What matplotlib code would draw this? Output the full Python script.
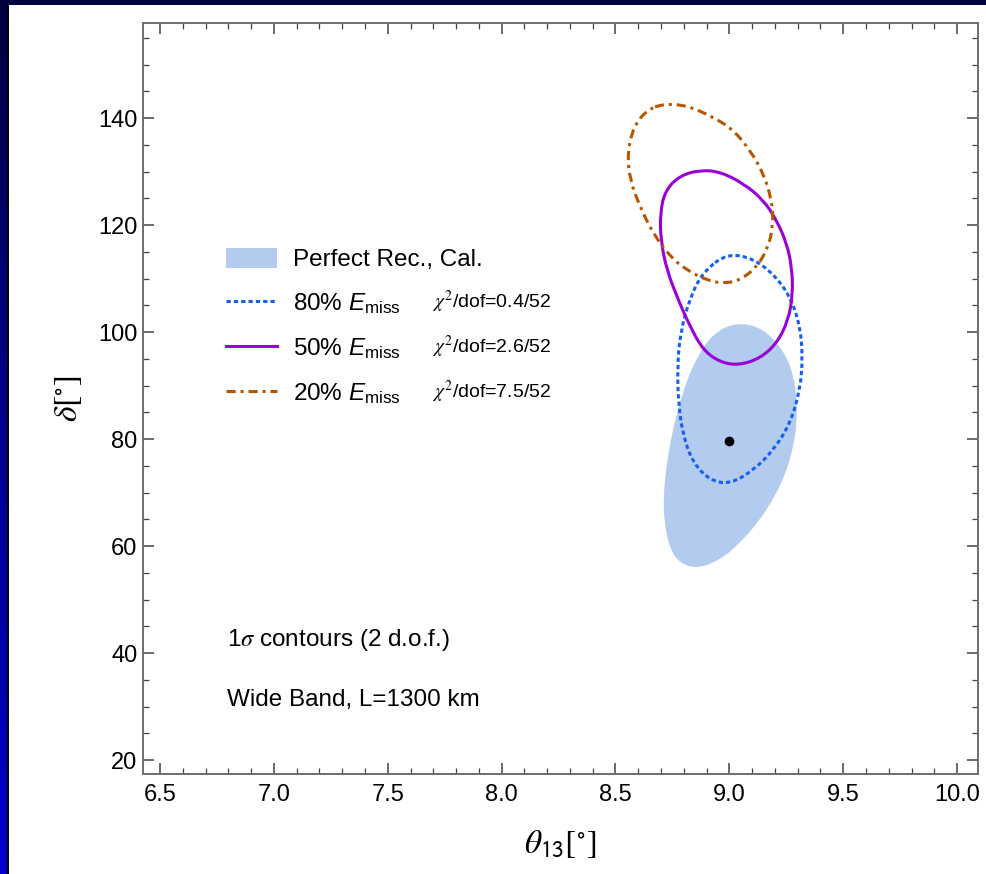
import matplotlib
matplotlib.use('Agg')
import matplotlib.pyplot as plt
import numpy as np
from matplotlib.colors import LinearSegmentedColormap
from matplotlib.lines import Line2D
from matplotlib.patches import Patch, Rectangle, PathPatch
from matplotlib.path import Path

plt.rcParams['font.family'] = ['Liberation Sans', 'DejaVu Sans']
plt.rcParams['mathtext.fontset'] = 'custom'
plt.rcParams['mathtext.rm'] = 'Liberation Sans'
plt.rcParams['mathtext.it'] = 'Liberation Sans:italic'

# best fit point
best_theta = 9.0
best_delta = 79.6

# 1 sigma region, perfect reconstruction / calibration (theta13, delta)
perfect_theta = [9.033, 9.150, 9.237, 9.281, 9.296, 9.296, 9.281, 9.252, 9.208, 9.135,
                 9.047, 8.959, 8.857, 8.784, 8.740, 8.715, 8.710, 8.725, 8.754, 8.798,
                 8.857, 8.930]
perfect_delta = [101.9, 100.7, 96.6, 92.3, 87.3, 83.0, 78.6, 74.2, 69.9, 64.9,
                 60.6, 57.4, 55.8, 56.8, 59.3, 64.3, 69.2, 75.5, 82.3, 89.2,
                 95.4, 99.8]

# 80% E_miss
e80_theta = [8.989, 9.106, 9.208, 9.274, 9.311, 9.322, 9.311, 9.267, 9.193, 9.106,
             9.003, 8.915, 8.842, 8.798, 8.776, 8.772, 8.784, 8.828, 8.886]
e80_delta = [114.7, 113.8, 110.3, 106.0, 101.0, 95.4, 89.2, 82.9, 77.9, 74.2,
             71.6, 72.3, 75.5, 80.4, 86.7, 93.5, 99.8, 106.6, 111.3]

# 50% E_miss
e50_theta = [8.872, 8.959, 9.062, 9.150, 9.208, 9.252, 9.274, 9.279, 9.259, 9.208,
             9.135, 9.040, 8.959, 8.886, 8.828, 8.776, 8.725, 8.699, 8.696, 8.718,
             8.784]
e50_delta = [130.3, 130.0, 127.8, 124.7, 120.9, 116.6, 112.2, 107.2, 102.2, 97.9,
             95.1, 93.8, 94.4, 96.6, 101.0, 106.0, 111.6, 117.2, 122.2, 126.5,
             129.3]

# 20% E_miss
e20_theta = [8.710, 8.813, 8.930, 9.018, 9.091, 9.150, 9.186, 9.193, 9.172, 9.121,
             9.047, 8.974, 8.901, 8.813, 8.740, 8.666, 8.608, 8.564, 8.552, 8.579,
             8.637]
e20_delta = [142.7, 142.4, 140.2, 137.8, 134.0, 129.7, 124.7, 120.3, 115.9, 112.2,
             109.7, 109.1, 109.7, 111.6, 114.1, 118.4, 123.4, 128.4, 133.4, 138.4,
             141.5]

labels = ['Perfect Rec., Cal.', r'80% $E_{\mathrm{miss}}$', r'50% $E_{\mathrm{miss}}$',
          r'20% $E_{\mathrm{miss}}$']
chi2_labels = [r'$\chi^2$/dof=0.4/52', r'$\chi^2$/dof=2.6/52', r'$\chi^2$/dof=7.5/52']

fill_col = '#b3cbef'
blue = '#1660ef'
purple = '#9a00d8'
orange = '#b85600'
dotted = (0, (1.4, 1.0))
dashdot = (0, (3, 1.6, 1, 1.6))


def smooth_loop(xs, ys):
    # closed quadratic bezier path using the read points as control points
    pts = np.column_stack([xs, ys])
    nxt = np.roll(pts, -1, axis=0)
    mids = (pts + nxt) / 2
    verts = [mids[-1]]
    codes = [Path.MOVETO]
    for p, m in zip(pts, mids):
        verts += [p, m]
        codes += [Path.CURVE3, Path.CURVE3]
    return Path(verts, codes)


W, H = 986, 874
fig = plt.figure(figsize=(W / 100, H / 100), dpi=100)

# background frame: blue gradient with white panel
bg = fig.add_axes([0, 0, 1, 1], zorder=-10)
cmap = LinearSegmentedColormap.from_list('bgblue', ['#000040', '#000090', '#0000cc'])
bg.imshow(np.linspace(0, 1, 256).reshape(-1, 1), aspect='auto', cmap=cmap,
          extent=[0, W, H, 0])
bg.add_patch(Rectangle((6.5, 4.5), 3, H, color='black', lw=0))
bg.add_patch(Rectangle((9, 5), W, H, color='white', lw=0))
bg.set_xlim(0, W)
bg.set_ylim(H, 0)
bg.axis('off')

ax = fig.add_axes([143 / W, 1 - 774 / H, 835 / W, 751 / H])
ax.set_facecolor('white')

ax.add_patch(PathPatch(smooth_loop(perfect_theta, perfect_delta), facecolor=fill_col,
                       edgecolor='none', zorder=1))
ax.add_patch(PathPatch(smooth_loop(e80_theta, e80_delta), facecolor='none',
                       edgecolor=blue, lw=2.2, ls=dotted, zorder=3))
ax.add_patch(PathPatch(smooth_loop(e50_theta, e50_delta), facecolor='none',
                       edgecolor=purple, lw=2.2, ls='-', zorder=3))
ax.add_patch(PathPatch(smooth_loop(e20_theta, e20_delta), facecolor='none',
                       edgecolor=orange, lw=2.2, ls=dashdot, zorder=3))
ax.plot([best_theta], [best_delta], 'o', color='black', ms=6, zorder=4)

ax.set_xlim(6.425, 10.092)
ax.set_ylim(17.4, 157.8)
ax.set_xticks(np.arange(6.5, 10.01, 0.5))
ax.set_xticklabels(['%.1f' % v for v in np.arange(6.5, 10.01, 0.5)])
ax.set_xticks(np.arange(6.5, 10.09, 0.1), minor=True)
ax.set_yticks(np.arange(20, 141, 20))
ax.set_yticks(np.arange(20, 156, 5), minor=True)

spine_col = '#6e6e6e'
for s in ax.spines.values():
    s.set_color(spine_col)
    s.set_linewidth(1.4)
ax.tick_params(which='both', direction='in', top=True, right=True, color='#444444',
               labelsize=17)
ax.tick_params(which='major', length=8, width=1.1)
ax.tick_params(which='minor', length=4.5, width=0.9)
ax.tick_params(axis='x', pad=7)
ax.tick_params(axis='y', pad=4)

ax.set_xlabel(r'$\theta_{\mathsf{13}}[{}^{\circ}]$', fontsize=24, math_fontfamily='stix',
              labelpad=16)
ax.set_ylabel(r'$\delta[{}^{\circ}]$', fontsize=24, math_fontfamily='stix', labelpad=10)

handles = [Patch(facecolor=fill_col, edgecolor='none'),
           Line2D([], [], color=blue, lw=2.2, ls=dotted),
           Line2D([], [], color=purple, lw=2.2),
           Line2D([], [], color=orange, lw=2.2, ls=dashdot)]
leg = ax.legend(handles, labels, loc='upper left', bbox_to_anchor=(0.099, 0.7007),
                frameon=False, fontsize=17.5, handlelength=2.1, handleheight=0.9,
                handletextpad=0.65, labelspacing=0.83, borderpad=0, borderaxespad=0)

chi_y = [(774 - 302) / 751, (774 - 347) / 751, (774 - 392) / 751]
for y, t in zip(chi_y, chi2_labels):
    ax.text(0.346, y, t, transform=ax.transAxes, fontsize=14, va='center',
            math_fontfamily='stix')

ax.text((227 - 143) / 835, (774 - 640) / 751, r'1$\sigma$ contours (2 d.o.f.)',
        transform=ax.transAxes, fontsize=17.5, va='center', math_fontfamily='stix')
ax.text((227 - 143) / 835, (774 - 700) / 751, 'Wide Band, L=1300 km',
        transform=ax.transAxes, fontsize=17.5, va='center')

fig.savefig('out.png', dpi=100)
